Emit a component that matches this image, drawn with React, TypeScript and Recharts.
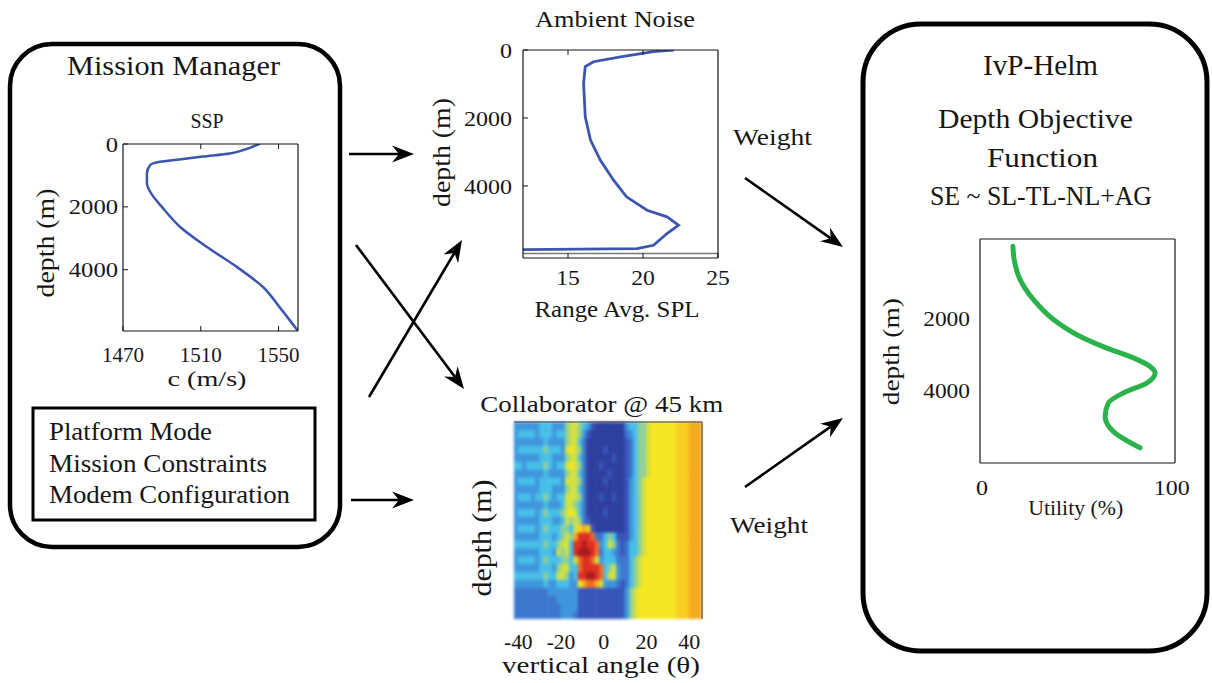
import React from 'react'
import { LineChart, Line, XAxis, YAxis, BarChart, Bar, Cell, ReferenceLine } from 'recharts'

const FONT = "'Liberation Serif', 'Times New Roman', serif"
const INK = '#161616'
const PROFILE_BLUE = '#3b56ac'
const UTIL_GREEN = '#2bb34b'

// sound speed profile (Mission Manager panel)
const SSP_DEPTH = [0, 190, 300, 400, 490, 565, 670, 930, 1250, 1620, 2000, 2640, 3270, 3910, 4550, 5190, 5950]
const SSP_SPEED = [1540, 1532, 1525, 1511, 1499, 1489, 1484, 1482.3, 1482.3, 1485, 1490, 1499.4, 1513, 1528.5, 1542, 1550.5, 1560]
const SSP_SPEED_TICKS = [1470, 1510, 1550]
const DEPTH_TICKS = [0, 2000, 4000]
const DEPTH_INNER_TICKS = [2000, 4000]

// ambient noise, range averaged SPL
const NOISE_DEPTH = [0, 50, 200, 345, 490, 980, 1965, 2650, 3240, 3830, 4320, 4715, 4910, 5155, 5400, 5745, 5845, 5872]
const NOISE_SPL = [22.0, 20.7, 18.5, 16.7, 16.15, 16.04, 16.15, 16.5, 17.15, 18.04, 18.9, 20.27, 21.6, 22.37, 21.6, 20.7, 19.6, 12.0]
const NOISE_SPL_TICKS = [15, 20, 25]
const NOISE_FLOOR_DEPTH = 5990

// depth objective function
const UTIL_DEPTH = [0, 370, 930, 1480, 2030, 2450, 2820, 3090, 3330, 3510, 3790, 4060, 4340, 4710, 5130, 5580]
const UTIL_VALUE = [16.3, 17.0, 20.2, 27.2, 37.7, 50, 65.8, 79.8, 88.6, 91.2, 86.8, 74.5, 66.6, 64.9, 69.3, 83.3]
const UTIL_TICKS = [0, 100]

// collaborator beam pattern: one column per 2 deg, one row per depth band (top to bottom)
const HEAT_ANGLES = [-41, -39, -37, -35, -33, -31, -29, -27, -25, -23, -21, -19, -17, -15, -13, -11, -9, -7, -5, -3, -1, 1, 3, 5, 7, 9, 11, 13, 15, 17, 19, 21, 23, 25, 27, 29, 31, 33, 35, 37, 39, 41, 43, 45]
const HEAT_ANGLE_TICKS = [-40, -20, 0, 20, 40]
const HEAT_ROWS = [
  '333333|444|333|566|5|4310000000|344556777777888999',
  '344443|444|344|566|5|3100000000|234556777777888999',
  '333333|343|333|566|4|2000000000|124556777777888999',
  '344444|454|443|676|5|2000010000|124556777777888999',
  '333333|444|333|566|4|2000000100|124556777777888999',
  '443444|454|344|676|5|2000100000|124556777777888999',
  '333333|343|333|566|4|2000001000|124556777777888999',
  '344443|444|443|666|5|2000010000|134567777777888999',
  '333333|444|333|566|4|2000000000|134567777777888999',
  '344434|454|344|666|5|2000100100|134567777777888999',
  '333333|343|334|665|4|2000000000|134567777777888999',
  '344443|454|445|676|4|2000010000|134567777777888999',
  '333333|444|334|656|5|2100000000|134567777777888999',
  '344443|454|445|546|8|9810000000|134567777777888999',
  '333333|444|345|659|b|bba2245411|134567777777888999',
  '444444|454|456|64b|b|cbba346521|244567777777888999',
  '333333|444|365|64b|c|ccba244321|244567777777888999',
  '344443|454|445|546|a|bba6344422|245677777777888999',
  '333333|444|356|644|a|bbbba45632|245677777777888999',
  '444444|454|466|534|b|bccba46632|245677777777888999',
  '333333|343|344|433|7|9aa9633321|245677777777888999',
  '222222|223|333|333|1|1111111111|356777777777888999',
  '222222|222|233|333|1|1111111111|356777777777888999',
  '222222|222|223|333|1|1111111111|356777777777888999',
  '222222|222|223|332|1|1111111111|356777777777888999',
]
const HEAT_COLORS: Record<string, string> = {
  '0': '#2a3b9e',
  '1': '#3353b9',
  '2': '#3a74cf',
  '3': '#3b94dc',
  '4': '#43bee8',
  '5': '#8ccf98',
  '6': '#d2e03c',
  '7': '#f6e51f',
  '8': '#f8cd1c',
  '9': '#f4a91b',
  a: '#ef6a1f',
  b: '#e02a1e',
  c: '#a8161a',
}

// tick label in the page serif, stretched to the width the original face takes
function AxisTick(props: any) {
  const { x, y, payload, textAnchor, size, dy, digit } = props
  const label = String(payload.value)
  const width = label.split('').reduce((w, ch) => w + (ch === '-' ? digit * 0.6 : digit), 0)
  return (
    <text
      x={x}
      y={y}
      dy={dy}
      textAnchor={textAnchor}
      fontSize={size}
      fontFamily={FONT}
      fill={INK}
      textLength={width}
      lengthAdjust="spacingAndGlyphs"
    >
      {label}
    </text>
  )
}

interface ProfileProps {
  left: number
  top: number
  width: number
  height: number
  margin: { top: number; right: number; bottom: number; left: number }
  data: { depth: number; value: number }[]
  xDomain: [number, number]
  yDomain: [number, number]
  xTicks: number[]
  yTicks: number[]
  topTicks: number[]
  rightTicks: number[]
  tickMarks: boolean
  xTickMargin: number
  yTickMargin: number
  xDigit: number
  yDigit: number
  yAxisWidth: number
  xAxisHeight: number
  color: string
  strokeWidth: number
  curve: 'monotone' | 'linear'
  children?: React.ReactNode
}

function ProfilePlot(p: ProfileProps) {
  const size = p.tickMarks ? -5 : 0
  const tickLine = p.tickMarks ? { stroke: INK } : false
  const axisLine = { stroke: INK, strokeWidth: 1.2 }
  return (
    <div style={{ position: 'absolute', left: p.left, top: p.top }}>
      <LineChart width={p.width} height={p.height} data={p.data} layout="vertical" margin={p.margin}>
        <XAxis
          xAxisId="b"
          type="number"
          domain={p.xDomain}
          ticks={p.xTicks}
          allowDataOverflow
          interval={0}
          height={p.xAxisHeight}
          tickSize={size}
          tickLine={tickLine}
          tickMargin={p.xTickMargin}
          axisLine={axisLine}
          tick={(t: any) => <AxisTick {...t} size={21} dy="0.71em" digit={p.xDigit} />}
        />
        <XAxis
          xAxisId="t"
          type="number"
          orientation="top"
          domain={p.xDomain}
          ticks={p.topTicks}
          allowDataOverflow
          interval={0}
          height={1}
          tickSize={size}
          tickLine={tickLine}
          tickFormatter={() => ''}
          axisLine={axisLine}
        />
        <YAxis
          yAxisId="l"
          type="number"
          dataKey="depth"
          domain={p.yDomain}
          ticks={p.yTicks}
          allowDataOverflow
          interval={0}
          width={p.yAxisWidth}
          tickSize={size}
          tickLine={tickLine}
          tickMargin={p.yTickMargin}
          axisLine={axisLine}
          tick={(t: any) => <AxisTick {...t} size={21} dy="0.36em" digit={p.yDigit} />}
        />
        <YAxis
          yAxisId="r"
          type="number"
          orientation="right"
          domain={p.yDomain}
          ticks={p.rightTicks}
          allowDataOverflow
          interval={0}
          width={1}
          tickSize={size}
          tickLine={tickLine}
          tickFormatter={() => ''}
          axisLine={axisLine}
        />
        {p.children}
        <Line
          xAxisId="b"
          yAxisId="l"
          dataKey="value"
          type={p.curve}
          stroke={p.color}
          strokeWidth={p.strokeWidth}
          strokeLinecap="round"
          dot={false}
          isAnimationActive={false}
        />
      </LineChart>
    </div>
  )
}

function HeatPlot() {
  const grid = HEAT_ROWS.map((r) => r.replace(/\|/g, ''))
  const data = HEAT_ANGLES.map((angle) => {
    const col: Record<string, number> = { angle }
    grid.forEach((_, r) => {
      col[`r${r}`] = 1
    })
    return col
  })
  // stacked bars build from the bottom, so the deepest band goes first
  const order = grid.map((_, r) => r).reverse()
  return (
    <>
      {/* the cells, softened like the interpolated original */}
      <div style={{ position: 'absolute', left: 504, top: 405, filter: 'blur(1.4px)' }}>
        <BarChart width={212} height={260} data={data} margin={{ top: 17, right: 14, left: 10, bottom: 46 }} barCategoryGap={0} barGap={0}>
          <XAxis xAxisId="deg" type="number" dataKey="angle" domain={[-42, 46]} allowDataOverflow hide />
          <YAxis yAxisId="cells" type="number" domain={[0, grid.length]} allowDataOverflow hide />
          {order.map((r) => (
            <Bar key={r} dataKey={`r${r}`} stackId="beam" xAxisId="deg" yAxisId="cells" isAnimationActive={false}>
              {HEAT_ANGLES.map((_, c) => {
                const color = HEAT_COLORS[grid[r][c]]
                return <Cell key={c} fill={color} stroke={color} strokeWidth={0.6} />
              })}
            </Bar>
          ))}
        </BarChart>
      </div>
      {/* axes drawn on top, sharp */}
      <div style={{ position: 'absolute', left: 504, top: 405 }}>
        <BarChart width={212} height={260} data={data} margin={{ top: 16, right: 13, left: 10, bottom: 6 }}>
          <XAxis
            xAxisId="deg"
            type="number"
            dataKey="angle"
            domain={[-42, 46]}
            ticks={HEAT_ANGLE_TICKS}
            allowDataOverflow
            interval={0}
            height={40}
            tickSize={0}
            tickLine={false}
            axisLine={false}
            tickMargin={15}
            tick={(t: any) => <AxisTick {...t} size={21} dy="0.71em" digit={11} />}
          />
          <XAxis xAxisId="frame" type="number" dataKey="angle" orientation="top" domain={[-42, 46]} allowDataOverflow height={1} tickFormatter={() => ''} tickLine={false} axisLine={{ stroke: '#333' }} />
          <YAxis yAxisId="frame" type="number" orientation="right" domain={[0, 1]} allowDataOverflow width={1} tickFormatter={() => ''} tickLine={false} axisLine={{ stroke: '#333' }} />
        </BarChart>
      </div>
    </>
  )
}

function Arrow({ from, to }: { from: [number, number]; to: [number, number] }) {
  const [x1, y1] = from
  const [x2, y2] = to
  const len = Math.hypot(x2 - x1, y2 - y1)
  const ux = (x2 - x1) / len
  const uy = (y2 - y1) / len
  const nx = -uy
  const ny = ux
  const bx = x2 - ux * 22
  const by = y2 - uy * 22
  const nxp = x2 - ux * 15
  const nyp = y2 - uy * 15
  const head = `M${x2},${y2} L${bx + nx * 8.5},${by + ny * 8.5} L${nxp},${nyp} L${bx - nx * 8.5},${by - ny * 8.5} Z`
  return (
    <g>
      <line x1={x1} y1={y1} x2={nxp} y2={nyp} stroke="#000" strokeWidth={2.6} />
      <path d={head} fill="#000" />
    </g>
  )
}

function Label({
  x,
  y,
  size,
  width,
  anchor = 'middle',
  rotate = false,
  children,
}: {
  x: number
  y: number
  size: number
  width: number
  anchor?: 'start' | 'middle' | 'end'
  rotate?: boolean
  children: React.ReactNode
}) {
  return (
    <text
      x={x}
      y={y}
      fontSize={size}
      fontFamily={FONT}
      fill={INK}
      textAnchor={anchor}
      textLength={width}
      lengthAdjust="spacingAndGlyphs"
      transform={rotate ? `rotate(-90 ${x} ${y})` : undefined}
    >
      {children}
    </text>
  )
}

export default function App() {
  const sspData = SSP_DEPTH.map((depth, i) => ({ depth, value: SSP_SPEED[i] }))
  const noiseData = NOISE_DEPTH.map((depth, i) => ({ depth, value: NOISE_SPL[i] }))
  const utilData = UTIL_DEPTH.map((depth, i) => ({ depth, value: UTIL_VALUE[i] }))

  return (
    <div style={{ position: 'absolute', left: 0, top: 0, width: 1212, height: 683, background: '#fff', overflow: 'hidden' }}>
      <ProfilePlot
        left={40}
        top={130}
        width={270}
        height={260}
        margin={{ top: 13, right: 11, bottom: 9, left: 0 }}
        data={sspData}
        xDomain={[1470, 1560]}
        yDomain={[0, 5950]}
        xTicks={SSP_SPEED_TICKS}
        yTicks={DEPTH_TICKS}
        topTicks={[1510, 1550]}
        rightTicks={DEPTH_INNER_TICKS}
        tickMarks
        xTickMargin={21}
        yTickMargin={10}
        xDigit={10.5}
        yDigit={12.3}
        yAxisWidth={83}
        xAxisHeight={50}
        color={PROFILE_BLUE}
        strokeWidth={2.5}
        curve="monotone"
      />

      <ProfilePlot
        left={440}
        top={30}
        width={290}
        height={280}
        margin={{ top: 19, right: 11, bottom: 12, left: 0 }}
        data={noiseData}
        xDomain={[12, 25]}
        yDomain={[0, 6120]}
        xTicks={NOISE_SPL_TICKS}
        yTicks={DEPTH_TICKS}
        topTicks={[15, 20]}
        rightTicks={DEPTH_INNER_TICKS}
        tickMarks
        xTickMargin={17}
        yTickMargin={16}
        xDigit={11.8}
        yDigit={12}
        yAxisWidth={83}
        xAxisHeight={40}
        color={PROFILE_BLUE}
        strokeWidth={2.8}
        curve="linear"
      >
        <ReferenceLine xAxisId="b" yAxisId="l" y={NOISE_FLOOR_DEPTH} stroke="#7a7a7a" strokeWidth={1.5} />
      </ProfilePlot>

      <ProfilePlot
        left={900}
        top={225}
        width={290}
        height={280}
        margin={{ top: 13, right: 14, bottom: 2, left: 0 }}
        data={utilData}
        xDomain={[-1, 101.7]}
        yDomain={[-200, 6000]}
        xTicks={UTIL_TICKS}
        yTicks={DEPTH_INNER_TICKS}
        topTicks={[]}
        rightTicks={[]}
        tickMarks={false}
        xTickMargin={17}
        yTickMargin={10}
        xDigit={12}
        yDigit={11.7}
        yAxisWidth={80}
        xAxisHeight={40}
        color={UTIL_GREEN}
        strokeWidth={5}
        curve="monotone"
      />

      <HeatPlot />

      <svg width={1212} height={683} style={{ position: 'absolute', left: 0, top: 0, pointerEvents: 'none' }}>
        <rect x={10} y={44} width={330} height={503} rx={42} fill="none" stroke="#000" strokeWidth={4.5} />
        <rect x={33} y={408} width={282} height={112} fill="none" stroke="#000" strokeWidth={3} />
        <rect x={863} y={24} width={344} height={627} rx={58} fill="none" stroke="#000" strokeWidth={5} />

        <Arrow from={[349, 154]} to={[414, 154]} />
        <Arrow from={[356, 245]} to={[464, 389]} />
        <Arrow from={[369, 397]} to={[462, 240]} />
        <Arrow from={[351, 500]} to={[414, 500]} />
        <Arrow from={[745, 178]} to={[843, 247]} />
        <Arrow from={[745, 487]} to={[843, 418]} />

        <Label x={173.5} y={75} size={28} width={213}>Mission Manager</Label>
        <Label x={207} y={128} size={20} width={33}>SSP</Label>
        <Label x={207} y={386} size={22} width={79}>c (m/s)</Label>
        <Label x={54} y={243} size={25} width={109} rotate>depth (m)</Label>
        <Label x={49} y={440} size={25} width={163} anchor="start">Platform Mode</Label>
        <Label x={49} y={472} size={25} width={218} anchor="start">Mission Constraints</Label>
        <Label x={49} y={503} size={25} width={241} anchor="start">Modem Configuration</Label>

        <Label x={615} y={26.7} size={24} width={160}>Ambient Noise</Label>
        <Label x={450} y={152.5} size={25} width={109} rotate>depth (m)</Label>
        <Label x={617} y={316.7} size={24} width={165}>Range Avg. SPL</Label>

        <Label x={601.7} y={411.7} size={24} width={243}>Collaborator @ 45 km</Label>
        <Label x={490.7} y={538} size={27} width={117} rotate>depth (m)</Label>
        <Label x={601} y={673} size={23} width={198}>vertical angle (θ)</Label>

        <Label x={772.5} y={145} size={24} width={79}>Weight</Label>
        <Label x={769} y={533.3} size={24} width={78}>Weight</Label>

        <Label x={1040.5} y={75} size={29} width={115}>IvP-Helm</Label>
        <Label x={1035.5} y={128.3} size={28} width={195}>Depth Objective</Label>
        <Label x={1042.5} y={166.7} size={28} width={111}>Function</Label>
        <Label x={1041} y={205} size={28} width={222}>SE ~ SL-TL-NL+AG</Label>
        <Label x={899} y={351.7} size={24} width={107} rotate>depth (m)</Label>
        <Label x={1075.7} y={515} size={20} width={95}>Utility (%)</Label>
      </svg>
    </div>
  )
}
